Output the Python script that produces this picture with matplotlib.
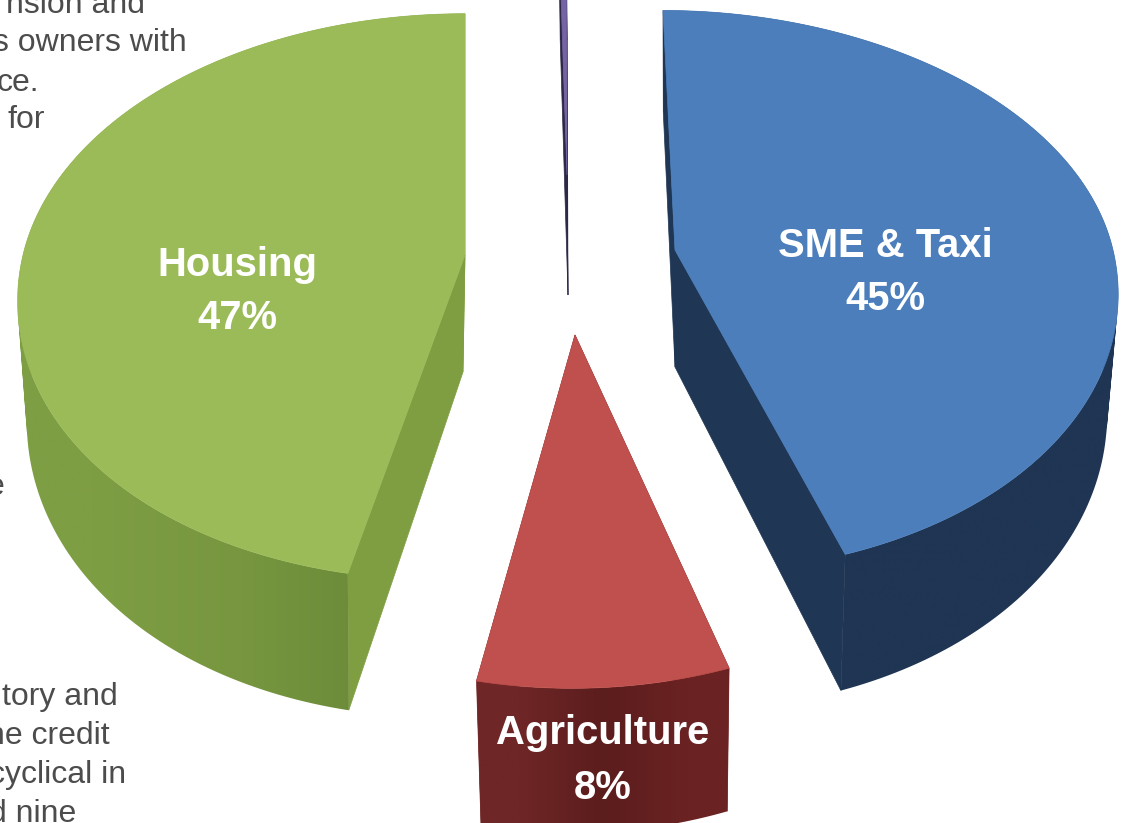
import numpy as np
import matplotlib
matplotlib.use("Agg")
import matplotlib.pyplot as plt
from matplotlib.colors import to_rgb
from matplotlib.path import Path

plt.rcParams["font.family"] = ["Liberation Sans", "DejaVu Sans"]

# slices in drawing order round the pie, clockwise from twelve o'clock
categories = ["SME & Taxi", "Agriculture", "Housing", "Other"]
shares = [45, 8, 47, 0.3]

# the paragraph running behind the pie, only its line ends are on the page
side_text = [
    ("nsion and", 145, 13),
    ("s owners with", 187, 51),
    ("ce.", 39, 91),
    ("for", 45, 128),
    ("e", 4, 495),
    ("tory and", 118, 705),
    ("he credit", 110, 744),
    ("cyclical in", 126, 783),
    ("d nine", 76, 822),
]

PERSPECTIVE = 0.148
SHRINK = 0.975  # lower rim is a little narrower than the top face

STYLE = {
    "SME & Taxi": dict(cx=675, cy=250, rx=438, ry=275, depth=117, drop_x=0, skew_up=-12, skew_down=-14,
                       top="#4b7ebb", face="#1f3654", side=["#1f3553", "#1f3553"]),
    "Agriculture": dict(cx=575, cy=335, rx=436, ry=301, depth=123, drop_x=2, skew_up=0, skew_down=3,
                        top="#c0504d", face="#6e2323", side=["#6f2626", "#5c1d1d", "#6b2222"]),
    "Housing": dict(cx=465, cy=255, rx=442, ry=277, depth=117, drop_x=-2, skew_up=0, skew_down=21,
                    top="#9bbb59", face="#7f9e42", side=["#7e9e44", "#77963f", "#6a8939"]),
    "Other": dict(cx=567, cy=175, rx=441, ry=275, depth=120, drop_x=1, skew_up=-8, skew_down=0,
                  top="#7464a4", face="#2e2848", side=["#2e2848", "#2e2848"]),
}


def project(theta, style):
    """Top and bottom rim points for clockwise angles in degrees."""
    u = np.sin(np.radians(theta))
    v = np.cos(np.radians(theta))
    s = 1 / (1 + PERSPECTIVE * v)
    # v * |v| keeps the rim smooth where the two skews meet at the sides
    skew = np.where(v > 0, style["skew_up"], style["skew_down"]) * v * np.abs(v)
    x = style["rx"] * u * s + skew
    y = style["ry"] * v * s
    top = np.column_stack([style["cx"] + x, style["cy"] - y])
    low = np.column_stack([style["cx"] + style["drop_x"] + x * SHRINK, style["cy"] - y + style["depth"] * s])
    return top, low


def wall_path(top, low):
    # one quad per rim step, all wound the same way so they merge when filled
    parts = []
    for i in range(len(top) - 1):
        quad = np.array([top[i], top[i + 1], low[i + 1], low[i], top[i]])
        area = np.sum(quad[:-1, 0] * quad[1:, 1] - quad[1:, 0] * quad[:-1, 1])
        parts.append(Path(quad if area > 0 else quad[::-1], closed=True))
    return Path.make_compound_path(*parts)


def draw_wall(ax, top, low, stops):
    # outer wall, a left-to-right shade clipped to the rim
    points = np.vstack([top, low])
    shade = np.array([[to_rgb(c) for c in stops]])
    image = ax.imshow(
        shade,
        extent=(points[:, 0].min(), points[:, 0].max(), points[:, 1].max(), points[:, 1].min()),
        aspect="auto",
        interpolation="bilinear",
        zorder=2,
    )
    image.set_clip_path(wall_path(top, low), transform=ax.transData)


def draw_slice(ax, start, stop, style):
    theta = np.linspace(start, stop, 160)
    top, low = project(theta, style)
    centre_top = [style["cx"], style["cy"]]
    centre_low = [style["cx"] + style["drop_x"], style["cy"] + style["depth"]]

    # the two cut faces
    for i in (0, -1):
        quad = [centre_top, top[i], low[i], centre_low]
        ax.fill(*zip(*quad), color=style["face"], lw=0.5, zorder=1)

    draw_wall(ax, top, low, style["side"])

    # top face
    ax.fill(*zip(*([centre_top] + list(top))), color=style["top"], lw=0.5, zorder=3)


fig, ax = plt.subplots(figsize=(11.22, 8.23), dpi=100)
fig.subplots_adjust(0, 0, 1, 1)
ax.axis("off")

for line, x, y in side_text:
    ax.text(x, y, line, ha="right", va="baseline", fontsize=23, color="#4c4c4c", zorder=0)

edges = np.cumsum([0] + [s * 3.6 for s in shares])
for i, name in enumerate(categories):
    draw_slice(ax, edges[i], edges[i + 1], STYLE[name])

# imshow resets the limits, so these go after the slices
ax.set_xlim(0, 1122)
ax.set_ylim(823, 0)

labels = {"SME & Taxi": (885, 246, 299), "Agriculture": (603, 733, 788), "Housing": (237, 265, 318)}
for name, share in zip(categories, shares):
    if name in labels:
        x, y1, y2 = labels[name]
        ax.text(x, y1, name, ha="center", va="center", fontsize=28.8, fontweight="bold", color="white", zorder=5)
        ax.text(x, y2, f"{share}%", ha="center", va="center", fontsize=28.8, fontweight="bold", color="white", zorder=5)

fig.savefig("out.png", dpi=100)
